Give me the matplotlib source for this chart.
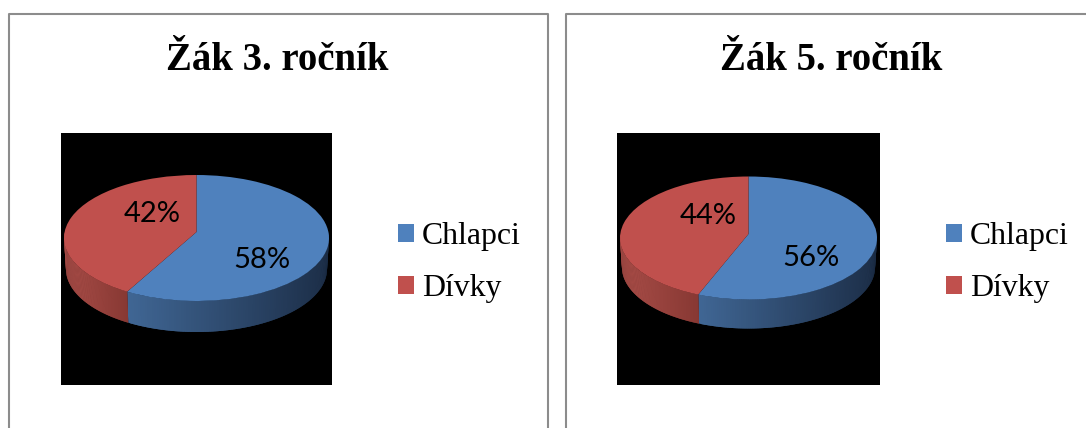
import numpy as np
import matplotlib
matplotlib.use("Agg")
import matplotlib.pyplot as plt
from matplotlib.lines import Line2D
from matplotlib.path import Path

titles = ["Žák 3. ročník", "Žák 5. ročník"]
categories = ["Chlapci", "Dívky"]
grade3_values = [58, 42]
grade5_values = [56, 44]

BLUE, RED = "#4F81BD", "#C0504D"
WALL = {
    BLUE: ((0.25, 0.40, 0.58), (0.11, 0.18, 0.28)),
    RED: ((0.66, 0.30, 0.28), (0.53, 0.22, 0.20)),
}
W, H = 1086, 428
fig = plt.figure(figsize=(W / 100, H / 100), dpi=100, facecolor="white")


def px_axes(x0, y0, x1, y1):
    return fig.add_axes([x0 / W, 1 - y1 / H, (x1 - x0) / W, (y1 - y0) / H])


def project(u, v, a):
    """Perspective view of the unit disc: the rim stays an ellipse, the apex moves up."""
    d = 1 + a * v
    return np.sqrt(1 - a * a) * u / d, (v + a) / d


def draw_wall(ax, values, colors, depth, a, taper):
    fractions = np.cumsum([0] + list(values)) / sum(values)
    angles = np.pi / 2 - 2 * np.pi * fractions
    for a0, a1, col in zip(angles[:-1], angles[1:], colors):
        lo, hi = max(a1, -np.pi), min(a0, 0)
        if lo >= hi:
            continue
        th = np.linspace(hi, lo, 120)
        X, Y = project(np.cos(th), np.sin(th), a)
        c0, c1 = WALL[col]
        xmin, xmax = X.min(), X.max()
        for i in range(len(th) - 1, 0, -1):
            t = (X[i] - xmin) / (xmax - xmin)
            mix = tuple((1 - t) * p + t * q for p, q in zip(c0, c1))
            j = max(i - 2, 0)
            xs = X[j:i + 1]
            ys = Y[j:i + 1]
            ax.fill(np.r_[xs, (xs * taper)[::-1]], np.r_[ys, (ys - depth)[::-1]],
                    color=mix, lw=0, zorder=2)


def chart(values, title, rect, cx, cy, rx, ry, depth_px, apex_px, title_x, label_xy, legend_xy, frame):
    x0, y0, x1, y1 = rect
    ax = px_axes(x0, y0, x1, y1)
    colors = [BLUE, RED]
    a = apex_px / ry
    wedges, _ = ax.pie(values, colors=colors, startangle=90, counterclock=False, radius=1,
                       frame=True, wedgeprops={"linewidth": 0, "zorder": 3})
    for w in wedges:
        p = w.get_path()
        X, Y = project(p.vertices[:, 0], p.vertices[:, 1], a)
        w._path = Path(np.c_[X, Y], p.codes)
    draw_wall(ax, values, colors, depth_px / ry, a, 0.985)
    ax.set_aspect("auto")
    ax.set_xlim((x0 - cx) / rx, (x1 - cx) / rx)
    ax.set_ylim((cy - y1) / ry, (cy - y0) / ry)
    ax.set_xticks([])
    ax.set_yticks([])
    ax.set_facecolor("black")
    for s in ax.spines.values():
        s.set_visible(False)
    for v, (lx, ly) in zip(values, label_xy):
        fig.text(lx / W, 1 - ly / H, f"{v}%", family="Lato", fontsize=21, color="black",
                 ha="center", va="center", zorder=10)
    fig.text(title_x / W, 1 - 61 / H, title, family="Liberation Serif", weight="bold",
             fontsize=27.9, ha="center", va="center")
    fig.legend(wedges, categories, loc="upper left",
               bbox_to_anchor=(legend_xy[0] / W, 1 - legend_xy[1] / H),
               bbox_transform=fig.transFigure, frameon=False, borderpad=0, borderaxespad=0,
               prop={"family": "Liberation Serif", "size": 22.9},
               handlelength=0.5, handleheight=0.5, handletextpad=0.25, labelspacing=0.73)
    fx0, fx1 = frame
    fig.add_artist(Line2D([fx0 / W, fx0 / W, fx1 / W, fx1 / W], [0, 1 - 14 / H, 1 - 14 / H, 0],
                          color="#8C8C8C", lw=1.5, transform=fig.transFigure))


chart(grade3_values, titles[0], (61, 133, 332, 385), 196.5, 238, 132.5, 63, 31, 6, 277.5,
      [(262, 260), (152, 214)], (398, 222), (9, 548))
chart(grade5_values, titles[1], (617, 133, 880, 385), 748.5, 238, 128.5, 61.5, 29, 4, 831,
      [(811, 258), (708, 216)], (946, 222), (566, 1090))

fig.savefig("out.png", dpi=100)
